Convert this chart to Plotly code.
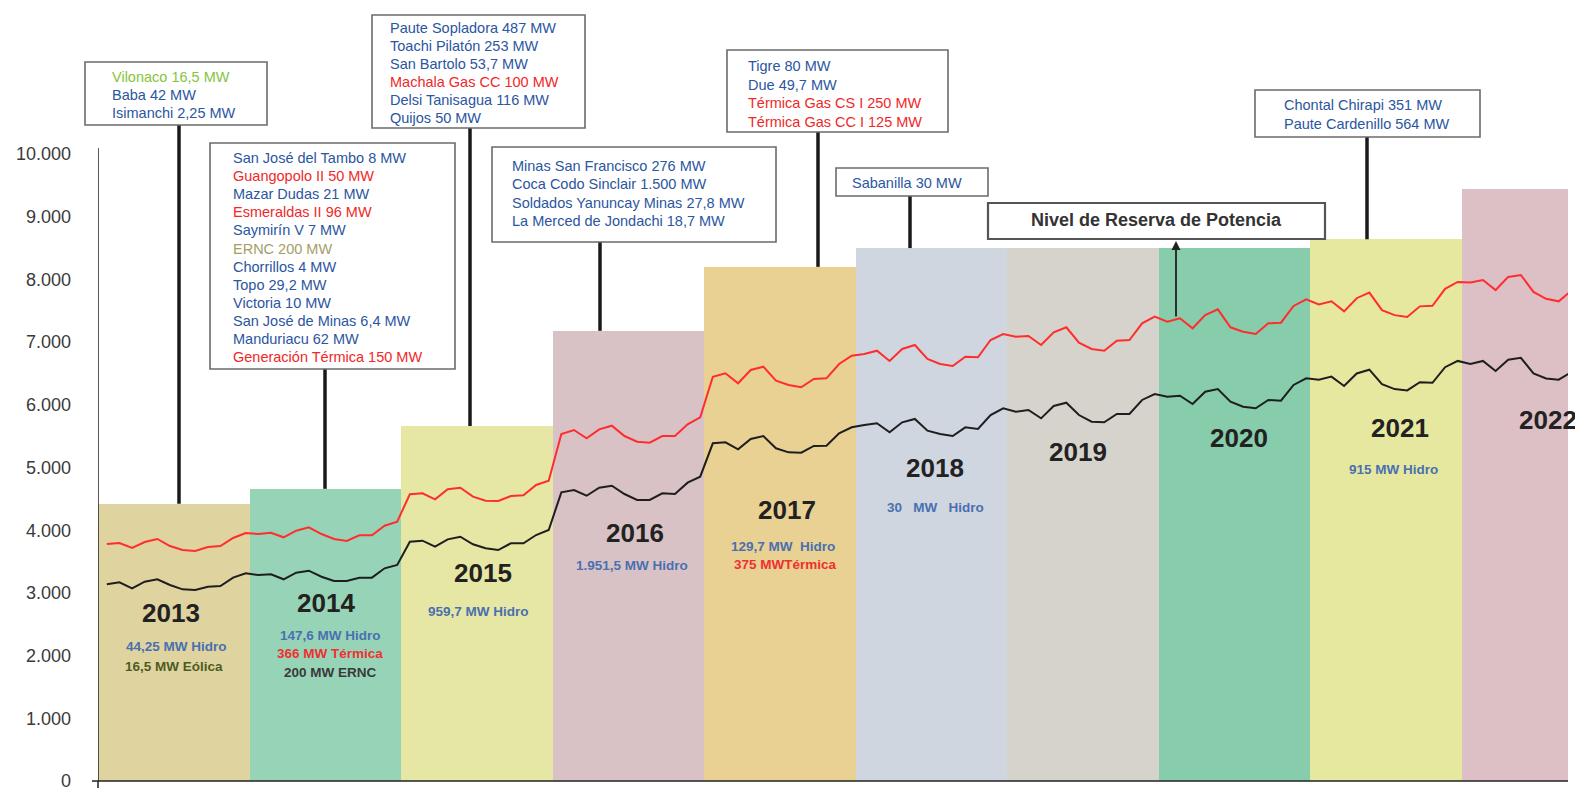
import plotly.graph_objects as go

# ---------------- data ----------------
years = [2013, 2014, 2015, 2016, 2017, 2018, 2019, 2020, 2021, 2022]
capacidad_efectiva = [4420, 4660, 5660, 7180, 8200, 8500, 8500, 8500, 8640, 9440]
bar_colors = ["#DFD3A0", "#97D4B7", "#E6E7A4", "#D9C2C5", "#E9D193",
              "#CFD6E0", "#D6D3CC", "#87CCAB", "#E7E89F", "#DCC0C5"]

# red line (monthly), one row per year
reserva = [
    3780, 3796, 3716, 3812, 3860, 3748, 3684, 3668, 3732, 3748, 3876, 3955,
    3939, 3960, 3887, 3992, 4046, 3939, 3860, 3828, 3919, 3919, 4072, 4136,
    4573, 4588, 4492, 4652, 4678, 4535, 4471, 4466, 4545, 4556, 4721, 4790,
    5534, 5598, 5466, 5609, 5667, 5502, 5411, 5396, 5502, 5502, 5689, 5801,
    6448, 6502, 6343, 6555, 6608, 6384, 6316, 6279, 6411, 6422, 6651, 6783,
    6810, 6863, 6699, 6890, 6954, 6730, 6651, 6619, 6767, 6757, 7033, 7129,
    7087, 7097, 6954, 7156, 7236, 6991, 6890, 6863, 7023, 7033, 7299, 7406,
    7326, 7379, 7220, 7432, 7523, 7236, 7166, 7129, 7299, 7310, 7576, 7682,
    7600, 7650, 7490, 7700, 7790, 7510, 7430, 7400, 7570, 7580, 7850, 7960,
    7950, 7990, 7830, 8040, 8070, 7800, 7690, 7650, 7820,
]
# black line (monthly)
demanda = [
    3137, 3169, 3073, 3179, 3217, 3126, 3057, 3046, 3099, 3110, 3243, 3313,
    3285, 3296, 3217, 3322, 3354, 3258, 3190, 3190, 3243, 3243, 3392, 3445,
    3817, 3833, 3737, 3854, 3896, 3775, 3711, 3684, 3791, 3791, 3923, 4003,
    4604, 4641, 4550, 4678, 4710, 4577, 4482, 4482, 4588, 4577, 4758, 4853,
    5386, 5402, 5290, 5455, 5502, 5306, 5242, 5236, 5343, 5348, 5545, 5641,
    5678, 5705, 5561, 5721, 5774, 5587, 5534, 5502, 5641, 5614, 5837, 5944,
    5890, 5917, 5784, 5981, 6033, 5837, 5731, 5721, 5853, 5853, 6077, 6172,
    6129, 6145, 6013, 6209, 6252, 6049, 5970, 5944, 6077, 6066, 6316, 6423,
    6400, 6450, 6300, 6500, 6560, 6330, 6250, 6230, 6360, 6350, 6600, 6700,
    6650, 6700, 6540, 6720, 6750, 6500, 6420, 6400, 6520,
]
tick_values = [0, 1000, 2000, 3000, 4000, 5000, 6000, 7000, 8000, 9000, 10000]

BLUE = "#2B56A0"
RED = "#F02828"
GREEN = "#86C440"
KHAKI = "#A59E68"

box_texts = [
    [("Vilonaco 16,5 MW", GREEN), ("Baba 42 MW", BLUE), ("Isimanchi 2,25 MW", BLUE)],
    [("San José del Tambo 8 MW", BLUE), ("Guangopolo II 50 MW", RED), ("Mazar Dudas 21 MW", BLUE),
     ("Esmeraldas II 96 MW", RED), ("Saymirín V 7 MW", BLUE), ("ERNC 200 MW", KHAKI),
     ("Chorrillos 4 MW", BLUE), ("Topo 29,2 MW", BLUE), ("Victoria 10 MW", BLUE),
     ("San José de Minas 6,4 MW", BLUE), ("Manduriacu 62 MW", BLUE), ("Generación Térmica 150 MW", RED)],
    [("Paute Sopladora 487 MW", BLUE), ("Toachi Pilatón 253 MW", BLUE), ("San Bartolo 53,7 MW", BLUE),
     ("Machala Gas CC 100 MW", RED), ("Delsi Tanisagua 116 MW", BLUE), ("Quijos 50 MW", BLUE)],
    [("Minas San Francisco 276 MW", BLUE), ("Coca Codo Sinclair 1.500 MW", BLUE),
     ("Soldados Yanuncay Minas 27,8 MW", BLUE), ("La Merced de Jondachi 18,7 MW", BLUE)],
    [("Tigre 80 MW", BLUE), ("Due 49,7 MW", BLUE), ("Térmica Gas CS I 250 MW", RED),
     ("Térmica Gas CC I 125 MW", RED)],
    [("Sabanilla 30 MW", BLUE)],
    [("Chontal Chirapi 351 MW", BLUE), ("Paute Cardenillo 564 MW", BLUE)],
]
# year index each callout box points to
box_year = [0, 1, 2, 3, 4, 5, 8]

year_notes = [
    [("44,25 MW Hidro", "#4A70B0"), ("16,5 MW Eólica", "#4E5C22")],
    [("147,6 MW Hidro", "#4A70B0"), ("366 MW Térmica", "#EE3030"), ("200 MW ERNC", "#3A3A3A")],
    [("959,7 MW Hidro", "#4A70B0")],
    [("1.951,5 MW Hidro", "#4A70B0")],
    [("129,7 MW  Hidro", "#4A70B0"), ("375 MWTérmica", "#EE3030")],
    [("30   MW   Hidro", "#4A70B0")],
    [], [], [("915 MW Hidro", "#4A70B0")], [],
]

# ---------------- pixel layout helpers ----------------
PX_LEFT, PX_RIGHT, PX_BOTTOM = 98, 1568, 781
PX_PER_YEAR = 151.5
PX_PER_UNIT = 0.0627
X_START = years[0]
X_END = X_START + (PX_RIGHT - PX_LEFT) / PX_PER_YEAR
Y_TOP = PX_BOTTOM / PX_PER_UNIT


def px2x(px):
    return X_START + (px - PX_LEFT) / PX_PER_YEAR


def py2y(py):
    return (PX_BOTTOM - py) / PX_PER_UNIT


def px2paper(px):
    return (px - PX_LEFT) / (PX_RIGHT - PX_LEFT)


def py2paper(py):
    return (PX_BOTTOM - py) / PX_BOTTOM


FONT = "Liberation Sans, Arial, sans-serif"

# monthly x positions
xs = []
for i in range(len(reserva)):
    yr, m = divmod(i, 12)
    xs.append(years[yr] + (m + 0.7) / 12)

fig = go.Figure()
fig.add_bar(x=[y + 0.5 for y in years], y=capacidad_efectiva, width=1,
            marker=dict(color=bar_colors, line=dict(width=0)),
            hoverinfo="skip", showlegend=False)
fig.add_scatter(x=xs, y=reserva, mode="lines", line=dict(color="#FF2D2D", width=2),
                showlegend=False)
fig.add_scatter(x=xs, y=demanda, mode="lines", line=dict(color="#1E1E1E", width=2),
                showlegend=False)

shapes = []
annotations = []

# axes lines
shapes.append(dict(type="line", xref="x", yref="y", x0=X_START, x1=X_START, y0=0,
                   y1=py2y(148), line=dict(color="#222", width=1.5), layer="above"))
shapes.append(dict(type="line", xref="paper", yref="paper", x0=px2paper(92),
                   x1=1, y0=0, y1=0, line=dict(color="#222", width=1.5)))
shapes.append(dict(type="line", xref="paper", yref="paper", x0=0, x1=0, y0=0,
                   y1=py2paper(788), line=dict(color="#222", width=1.5)))

# callout boxes: (left, top, right, bottom) px, text left px, first line center px, spacing, connector px
box_geom = [
    ((85, 62, 267, 125), 110, 77, 18.0, 179),
    ((210, 143, 455, 369), 231, 158, 18.1, 325),
    ((372, 15, 585, 128), 388, 28, 18.0, 470),
    ((492, 147, 776, 242), 510, 166, 18.3, 600),
    ((727, 50, 948, 132), 746, 66, 18.7, 818),
    ((836, 168, 988, 196), 850, 183, 18.0, 910),
    ((1255, 90, 1480, 137), 1282, 105, 19.0, 1367),
]
for (rect, tx, ty, sp, cx), lines, yi in zip(box_geom, box_texts, box_year):
    l, t, r, b = rect
    shapes.append(dict(type="line", xref="x", yref="y", x0=px2x(cx), x1=px2x(cx),
                       y0=capacidad_efectiva[yi], y1=py2y(b),
                       line=dict(color="#1A1A1A", width=3.5), layer="above"))
    # paper refs so the box is not clipped at the plot edge
    shapes.append(dict(type="rect", xref="paper", yref="paper", x0=px2paper(l), x1=px2paper(r),
                       y0=py2paper(b), y1=py2paper(t), fillcolor="white",
                       line=dict(color="#6B6B6B", width=1.6), layer="above"))
    for k, (txt, col) in enumerate(lines):
        annotations.append(dict(x=px2x(tx), y=py2y(ty + k * sp), xref="x", yref="y",
                                text=txt, showarrow=False, xanchor="left", yanchor="middle",
                                font=dict(family=FONT, size=14.5, color=col)))

# reserve level box + arrow
shapes.append(dict(type="rect", xref="paper", yref="paper", x0=px2paper(988), x1=px2paper(1325),
                   y0=py2paper(239), y1=py2paper(203), fillcolor="white",
                   line=dict(color="#555", width=2.2), layer="above"))
annotations.append(dict(x=px2x(1156), y=py2y(220), xref="x", yref="y",
                        text="<b>Nivel de Reserva de Potencia</b>", showarrow=False,
                        font=dict(family=FONT, size=18, color="#333")))
annotations.append(dict(x=px2x(1176), y=py2y(241), xref="x", yref="y", text="",
                        showarrow=True, ax=0, ay=77, arrowhead=2, arrowsize=1,
                        arrowwidth=1.8, arrowcolor="#222"))

# year labels and notes
year_label_px = [(171, 613), (326, 603), (483, 573), (635, 533), (787, 510),
                 (935, 468), (1078, 452), (1239, 438), (1400, 428), (1548, 420)]
note_px = [
    [(176, 646), (174, 666)],
    [(330, 635), (330, 653), (330, 672)],
    [(478, 611)],
    [(632, 565)],
    [(783, 546), (785, 564)],
    [(935, 507)],
    [], [], [(1393, 469)], [],
]
for yr, (lx, ly), notes, npos in zip(years, year_label_px, year_notes, note_px):
    annotations.append(dict(x=px2x(lx), y=py2y(ly), xref="x", yref="y",
                            text=f"<b>{yr}</b>", showarrow=False,
                            font=dict(family=FONT, size=26, color="#222")))
    for (txt, col), (nx, ny) in zip(notes, npos):
        annotations.append(dict(x=px2x(nx), y=py2y(ny), xref="x", yref="y",
                                text=f"<b>{txt}</b>", showarrow=False,
                                font=dict(family=FONT, size=13.5, color=col)))

fig.update_layout(
    width=1575, height=796,
    margin=dict(l=PX_LEFT, r=1575 - PX_RIGHT, t=0, b=796 - PX_BOTTOM),
    plot_bgcolor="white", paper_bgcolor="white",
    separators=",.", bargap=0, showlegend=False, hovermode=False,
    shapes=shapes, annotations=annotations,
    xaxis=dict(range=[X_START, X_END], showgrid=False, zeroline=False,
               showticklabels=False, showline=False, ticks=""),
    yaxis=dict(range=[0, Y_TOP], tickvals=tick_values, tickformat=",d",
               showgrid=False, zeroline=False, showline=False, ticks="",
               ticklabelstandoff=26,
               tickfont=dict(family=FONT, size=18, color="#3A3A3A")),
)

fig.write_html(
    "out.html",
    config={"displayModeBar": False},
    post_script="document.body.style.margin='0';document.body.style.overflow='hidden';",
)
